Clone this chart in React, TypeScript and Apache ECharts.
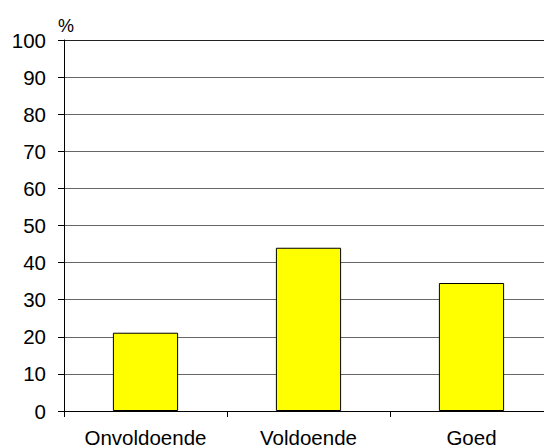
import React, { useEffect, useRef } from "react";
import * as echarts from "echarts";

const categories = ["Onvoldoende", "Voldoende", "Goed"];
const values = [21.1, 44.0, 34.5];
const yTicks = { min: 0, max: 100, interval: 10 };
const unitLabel = "%";

export default function App() {
  const ref = useRef<HTMLDivElement>(null);
  useEffect(() => {
    document.body.style.margin = "0";
    const chart = echarts.init(ref.current!, null, { renderer: "svg" });
    const font = "'Liberation Sans', Arial, sans-serif";
    const splitColors = Array.from({ length: 11 }, (_, i) => (i === 10 ? "#222" : "#666"));
    chart.setOption({
      animation: false,
      backgroundColor: "#fff",
      grid: { left: 64, top: 40, width: 489, height: 372, containLabel: false },
      xAxis: {
        type: "category",
        data: categories,
        axisLine: { show: true, lineStyle: { color: "#000", width: 1 } },
        axisTick: { show: true, length: 6, alignWithLabel: false, lineStyle: { color: "#000" } },
        axisLabel: { color: "#000", fontSize: 20.5, fontFamily: font, margin: 16 },
        splitLine: { show: false },
      },
      yAxis: {
        type: "value",
        min: yTicks.min,
        max: yTicks.max,
        interval: yTicks.interval,
        axisLine: { show: true, lineStyle: { color: "#000", width: 1 } },
        axisTick: { show: true, length: 6, lineStyle: { color: "#000" } },
        axisLabel: { color: "#000", fontSize: 20.5, fontFamily: font, margin: 18 },
        splitLine: { show: true, lineStyle: { color: splitColors, width: 1 } },
      },
      graphic: [
        {
          type: "text",
          left: 58,
          top: 17,
          style: { text: unitLabel, fontSize: 18, fontFamily: font, fill: "#000" },
        },
      ],
      series: [
        {
          type: "bar",
          data: values,
          barCategoryGap: "60%",
          itemStyle: { color: "#FFFF00", borderColor: "#000", borderWidth: 1 },
        },
      ],
    });
    return () => chart.dispose();
  }, []);
  return (
    <div style={{ width: 544, height: 448, overflow: "hidden", position: "relative" }}>
      <div ref={ref} style={{ width: 570, height: 448 }} />
    </div>
  );
}
